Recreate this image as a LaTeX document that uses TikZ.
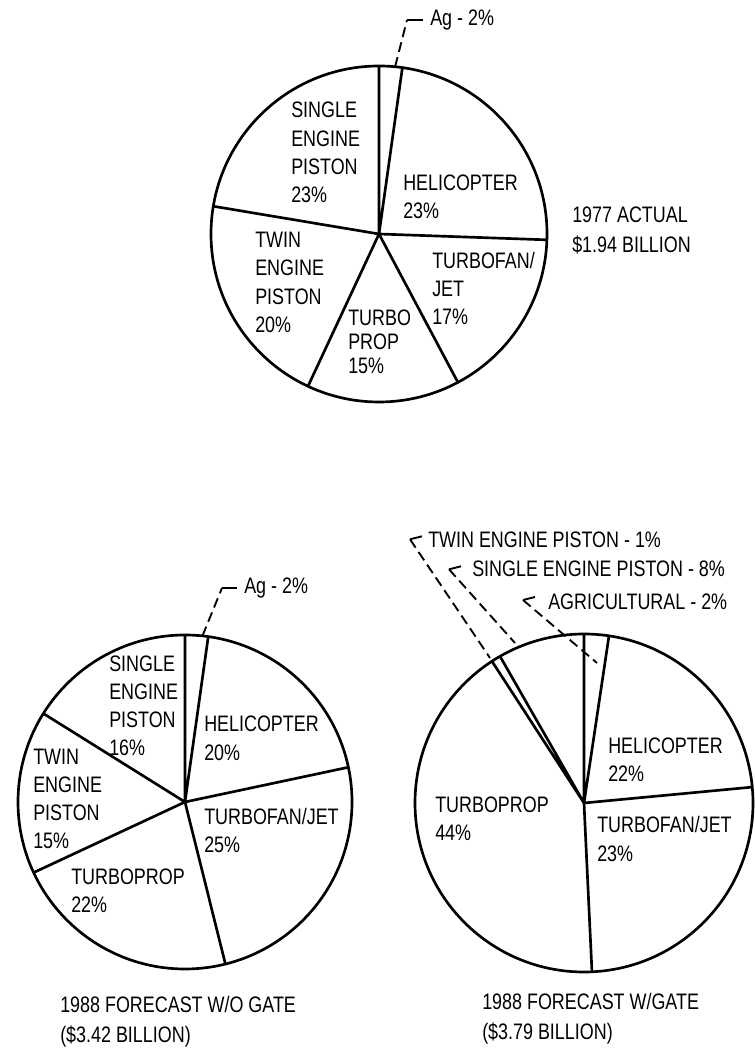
\documentclass[tikz,border=0pt]{standalone}
\usepackage{fontspec}
\setmainfont{Liberation Sans}[FakeStretch=0.8]
\tikzset{
  slice/.style={line width=2pt},
  lbl/.style={anchor=west,align=left,inner sep=0pt,font=\fontsize{16.8}{21.2}\selectfont},
  leader/.style={line width=1.4pt,dash pattern=on 7.5pt off 4pt},
  chev/.style={line width=1.4pt},
}
\begin{document}
\begin{tikzpicture}[x=0.75pt,y=0.75pt]
\useasboundingbox (0,0) rectangle (754,1048);
% 1977 actual
\begin{scope}[shift={(379,814)}]
\coordinate (A) at (0,0);
\coordinate (A1) at (90:168);
\coordinate (A2) at (82:168);
\coordinate (A3) at (-2:168);
\coordinate (A4) at (-62:168);
\coordinate (A5) at (-115:168);
\coordinate (A6) at (170.5:168);
\coordinate (Aag) at (84.5:168);
\draw[slice] (A) circle (168);
\draw[slice] (A) -- (A1) (A) -- (A2) (A) -- (A3) (A) -- (A4) (A) -- (A5) (A) -- (A6);
\end{scope}
% 1988 without gate
\begin{scope}[shift={(185,246)}]
\coordinate (B) at (0,0);
\coordinate (B1) at (90:167);
\coordinate (B2) at (82:167);
\coordinate (B3) at (12:167);
\coordinate (B4) at (-76:167);
\coordinate (B5) at (-155:167);
\coordinate (B6) at (148:167);
\coordinate (Bag) at (84:167);
\draw[slice] (B) circle (167);
\draw[slice] (B) -- (B1) (B) -- (B2) (B) -- (B3) (B) -- (B4) (B) -- (B5) (B) -- (B6);
\end{scope}
% 1988 with gate
\begin{scope}[shift={(584,245)}]
\coordinate (C) at (0,0);
\coordinate (C1) at (90:169);
\coordinate (C2) at (81.5:169);
\coordinate (C3) at (5.4:169);
\coordinate (C4) at (-87.3:169);
\coordinate (C5) at (123:169);
\coordinate (C6) at (119.8:169);
\draw[slice] (C) circle (169);
\draw[slice] (C) -- (C1) (C) -- (C2) (C) -- (C3) (C) -- (C4) (C) -- (C5) (C) -- (C6);
\end{scope}
% labels, top
\node[lbl] (asep) at (291,895.5) {SINGLE\\ENGINE\\PISTON\\23\%};
\node[lbl] (aheli) at (403,851.3) {HELICOPTER\\23\%};
\node[lbl] (atep) at (255,765.5) {TWIN\\ENGINE\\PISTON\\20\%};
\node[lbl,font=\fontsize{16.8}{18}\selectfont] (atp) at (348,706) {TURBO\\PROP\\15\%};
\node[lbl] (ajet) at (432,759.7) {TURBOFAN/\\JET\\17\%};
\node[lbl,font=\fontsize{16.8}{22.5}\selectfont] (atitle) at (572,818) {1977 ACTUAL\\\$1.94 BILLION};
\node[lbl] (aag) at (430,1028) {Ag - 2\%};
% labels, bottom left
\node[lbl] (bsep) at (109,342.2) {SINGLE\\ENGINE\\PISTON\\16\%};
\node[lbl] (bheli) at (204,309.7) {HELICOPTER\\20\%};
\node[lbl] (btep) at (33,249) {TWIN\\ENGINE\\PISTON\\15\%};
\node[lbl] (bjet) at (204,217.2) {TURBOFAN/JET\\25\%};
\node[lbl] (btp) at (71,157.2) {TURBOPROP\\22\%};
\node[lbl,font=\fontsize{16.8}{22.5}\selectfont] (btitle) at (60,26.3) {1988 FORECAST W/O GATE\\(\$3.42 BILLION)};
\node[lbl] (bag) at (244,460) {Ag - 2\%};
% labels, bottom right
\node[lbl] (cheli) at (608,288) {HELICOPTER\\22\%};
\node[lbl] (cjet) at (597,209) {TURBOFAN/JET\\23\%};
\node[lbl] (ctp) at (435,229) {TURBOPROP\\44\%};
\node[lbl,font=\fontsize{16.8}{22.5}\selectfont] (ctitle) at (482,29) {1988 FORECAST W/GATE\\(\$3.79 BILLION)};
\node[lbl] (ctep) at (428,508) {TWIN ENGINE PISTON - 1\%};
\node[lbl] (csep) at (472,479.7) {SINGLE ENGINE PISTON - 8\%};
\node[lbl] (cag) at (548,446.3) {AGRICULTURAL - 2\%};
% leaders
\coordinate (Agk) at (407,1028);
\coordinate (Bgk) at (222,460);
\draw[leader] (Aag) -- (Agk);
\draw[chev] (Agk) -- ([xshift=-5.5pt]aag.west);
\draw[leader] (Bag) -- (Bgk);
\draw[chev] (Bgk) -- ([xshift=-5.5pt]bag.west);
\coordinate (ctept) at (410,508.7);
\coordinate (csept) at (449,478.7);
\coordinate (cagt) at (523,448);
\coordinate (ctepe) at (490,390);
\coordinate (csepe) at (515,405);
\coordinate (cage) at (597,385);
\draw[leader] (ctept) -- (ctepe);
\draw[leader] (csept) -- (csepe);
\draw[leader] (cagt) -- (cage);
\draw[chev] (ctept) -- ++(12,3);
\draw[chev] (csept) -- ++(12,3);
\draw[chev] (cagt) -- ++(12,3);
\end{tikzpicture}
\end{document}
